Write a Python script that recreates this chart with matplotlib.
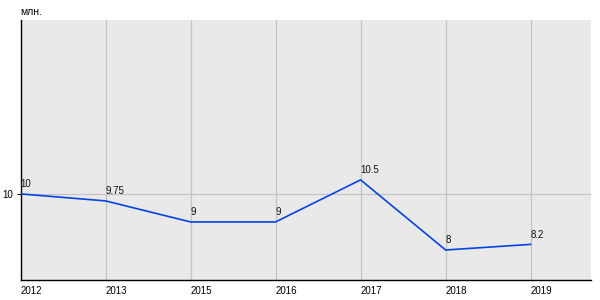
import matplotlib
matplotlib.use("Agg")
import matplotlib.pyplot as plt

years = ["2012", "2013", "2015", "2016", "2017", "2018", "2019"]
values = [10, 9.75, 9, 9, 10.5, 8, 8.2]
value_labels = ["10", "9.75", "9", "9", "10.5", "8", "8.2"]
y_ticks = [10]
unit_label = "млн."

plt.rcParams["font.family"] = ["Liberation Sans", "DejaVu Sans"]

fig = plt.figure(figsize=(6, 3), dpi=100)
ax = fig.add_axes([20.5 / 600, 20 / 300, 570.5 / 600, 260 / 300])
ax.set_facecolor("#e9e9e9")

x = list(range(len(years)))
ax.plot(x, values, color="#0544e2", linewidth=1.2, zorder=3)
for xi, v, lab in zip(x, values, value_labels):
    ax.annotate(lab, (xi, v), xytext=(0, 3.5), textcoords="offset points",
                ha="left", va="bottom", fontsize=7, color="#111111")

ax.set_xlim(0, 6.71)
ax.set_ylim(6.93, 16.2)
ax.set_xticks(x)
ax.set_xticklabels(years, ha="left", fontsize=7)
ax.set_yticks(y_ticks)
ax.set_yticklabels([str(t) for t in y_ticks], fontsize=7)
ax.tick_params(axis="x", length=0, pad=4)
ax.tick_params(axis="y", length=3, width=0.8, pad=2)
ax.grid(True, color="#c4c4c4", linewidth=0.9)
ax.set_axisbelow(True)
for side in ("top", "right"):
    ax.spines[side].set_visible(False)
for side in ("left", "bottom"):
    ax.spines[side].set_color("black")
    ax.spines[side].set_linewidth(1)

fig.text(20 / 600, 1 - 12 / 300, unit_label, fontsize=7.5, va="center", ha="left")

fig.savefig("out.png", dpi=100)
